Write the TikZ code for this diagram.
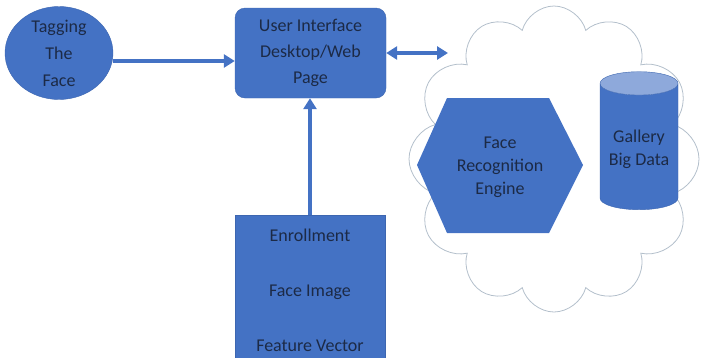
\documentclass[tikz,border=0pt]{standalone}
\usepackage{fontspec}
\setmainfont{Carlito}
\usetikzlibrary{arrows.meta,positioning,calc,shapes.geometric,shapes.symbols}
\definecolor{officeblue}{HTML}{4472C4}
\definecolor{edgeblue}{HTML}{3D66B0}
\definecolor{inkblue}{HTML}{1C2A46}
\definecolor{lidblue}{HTML}{8EA9DB}
\definecolor{cloudgray}{HTML}{B3BFCB}
\tikzset{
  caption/.style={align=center,text=inkblue,font=\fontsize{18}{24}\selectfont},
  block/.style={caption,fill=officeblue,draw=edgeblue,thin},
  link/.style={-{Triangle[length=11pt,width=13pt]},draw=officeblue,line width=3.5pt},
  twoway/.style={{Triangle[length=11pt,width=13pt]}-{Triangle[length=11pt,width=13pt]},
    draw=officeblue,line width=3.5pt},
  cloudline/.style={draw=cloudgray,line width=0.8pt}
}
\begin{document}
\begin{tikzpicture}[x=1pt,y=-1pt]
  \clip (0,0) rectangle (701,357);
  % cloud round the engine and the store
  \node[cloud,cloudline,cloud puffs=12,cloud ignores aspect,
    minimum width=290pt,minimum height=306pt] (net) at (554,159) {};
  \coordinate (gate) at (448,53);

  \node[block,ellipse,inner sep=-4pt,minimum width=108pt,minimum height=93pt,
    font=\fontsize{18}{27}\selectfont] (tag) at (59,53) {Tagging\\The\\Face};
  \node[block,rounded corners=10pt,minimum width=151pt,minimum height=90pt,
    font=\fontsize{18}{26}\selectfont] (ui) at (310.5,53) {User Interface\\Desktop/Web\\Page};
  \node[block,minimum width=150pt,minimum height=150pt] (enroll) at (310,290)
    {Enrollment\\[31pt]Face Image\\[31pt]Feature Vector};

  % engine
  \fill[officeblue] (417,165) -- (447,98) -- (549,98) -- (583,165) -- (549,233) -- (447,233) -- cycle;
  \node[caption,font=\fontsize{18}{23}\selectfont] (engine) at (500,167) {Face\\Recognition\\Engine};

  % store
  \node[cylinder,shape border rotate=90,aspect=3.5,draw=edgeblue,thin,
    cylinder uses custom fill,cylinder body fill=officeblue,cylinder end fill=lidblue,
    minimum width=78pt,minimum height=138pt] (store) at (639,149) {};
  \node[caption,font=\fontsize{18}{23}\selectfont] (storetext) at (639,149) {Gallery\\Big Data};

  \draw[link] ([yshift=-8pt]tag.east) -- ([yshift=-8pt]ui.west);
  \draw[twoway] (ui.east) -- (gate);
  \draw[link] (enroll.north) -- (enroll.north |- ui.south);
\end{tikzpicture}
\end{document}
